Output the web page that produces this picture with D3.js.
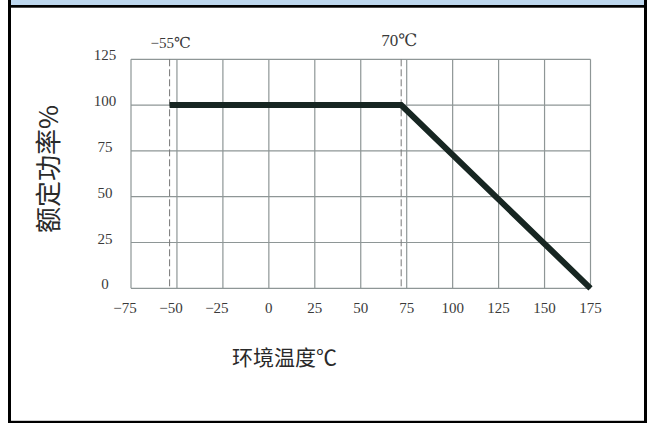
<!DOCTYPE html>
<html>
<head>
<meta charset="utf-8">
<script src="https://cdn.jsdelivr.net/npm/d3@7"></script>
<style>
  html, body { margin: 0; padding: 0; background: #fff; }
  svg { display: block; }
</style>
</head>
<body>
<svg id="chart" width="651" height="423"></svg>
<script>
// ---- data ----
const xTicks = [-75, -50, -25, 0, 25, 50, 75, 100, 125, 150, 175];
const yTicks = [0, 25, 50, 75, 100, 125];
const curveTemp = [-54, 72, 175];      // ambient temperature (°C)
const curvePower = [100, 100, 0];      // rated power (%)
const markerTemps = [-54, 72];
const markerLabels = ["−55℃", "70℃"];
const xTitle = "环境温度℃";
const yTitle = "额定功率%";

const svg = d3.select("#chart");
const W = 651, H = 423;

// frame
svg.append("rect").attr("x", 11).attr("y", 0).attr("width", 633).attr("height", 5).attr("fill", "#bdd7ee");
svg.append("rect").attr("x", 8).attr("y", 5).attr("width", 639).attr("height", 2.7).attr("fill", "#000");
svg.append("rect").attr("x", 8).attr("y", 0).attr("width", 3).attr("height", H).attr("fill", "#000");
svg.append("rect").attr("x", 644).attr("y", 0).attr("width", 3).attr("height", H).attr("fill", "#000");
svg.append("rect").attr("x", 8).attr("y", 420.8).attr("width", 639).attr("height", 3).attr("fill", "#000");

const x = d3.scaleLinear().domain([-75, 175]).range([131, 590.5]);
const y = d3.scaleLinear().domain([0, 125]).range([288.3, 59.3]);

const gridColor = "#8e9696";
const serif = "'Liberation Serif','DejaVu Serif',serif";
const cjk = "'Noto Sans CJK SC','Noto Sans CJK JP',sans-serif";

// grid
const g = svg.append("g");
g.selectAll("line.vx").data(xTicks).join("line")
  .attr("x1", d => x(d)).attr("x2", d => x(d))
  .attr("y1", y(125)).attr("y2", y(0))
  .attr("stroke", gridColor).attr("stroke-width", 1.2);
g.selectAll("line.hy").data(yTicks).join("line")
  .attr("y1", d => y(d)).attr("y2", d => y(d))
  .attr("x1", x(-75)).attr("x2", x(175))
  .attr("stroke", gridColor).attr("stroke-width", 1.2);

// x tick labels
svg.append("g").selectAll("text").data(xTicks).join("text")
  .attr("x", d => x(d) + (d < 0 ? -6 : 0))
  .attr("y", y(0) + 25)
  .attr("text-anchor", "middle")
  .attr("font-family", serif).attr("font-size", 15).attr("fill", "#3a3a3a")
  .text(d => d3.format("")(d));

// y tick labels
svg.append("g").selectAll("text").data(yTicks).join("text")
  .attr("x", 105)
  .attr("y", d => y(d) + 1)
  .attr("text-anchor", "middle")
  .attr("font-family", serif).attr("font-size", 15).attr("fill", "#3a3a3a")
  .text(d => d);

// dashed marker lines
svg.append("g").selectAll("line").data(markerTemps).join("line")
  .attr("x1", d => x(d)).attr("x2", d => x(d))
  .attr("y1", y(125)).attr("y2", y(0))
  .attr("stroke", "#777").attr("stroke-width", 1)
  .attr("stroke-dasharray", "7,3");

// marker labels
svg.append("g").selectAll("text").data(markerTemps).join("text")
  .attr("x", (d, i) => x(d) + (i === 0 ? 1 : -2))
  .attr("y", (d, i) => i === 0 ? 48 : 46)
  .attr("text-anchor", "middle")
  .attr("font-family", serif).attr("font-size", (d, i) => i === 0 ? 15 : 17).attr("fill", "#3a3a3a")
  .text((d, i) => markerLabels[i]);

// derating curve
const pts = curveTemp.map((t, i) => [t, curvePower[i]]);
svg.append("path")
  .datum(pts)
  .attr("d", d3.line().x(d => x(d[0])).y(d => y(d[1])))
  .attr("fill", "none").attr("stroke", "#172622").attr("stroke-width", 6)
  .attr("stroke-linejoin", "miter");

// axis titles
svg.append("text")
  .attr("x", 284.5).attr("y", 365)
  .attr("text-anchor", "middle")
  .attr("font-family", cjk).attr("font-size", 21).attr("fill", "#2a2a2a")
  .text(xTitle);

svg.append("text")
  .attr("transform", "translate(58,169) rotate(-90)")
  .attr("text-anchor", "middle")
  .attr("font-family", cjk).attr("font-size", 26).attr("fill", "#2a2a2a")
  .text(yTitle);
</script>
</body>
</html>
